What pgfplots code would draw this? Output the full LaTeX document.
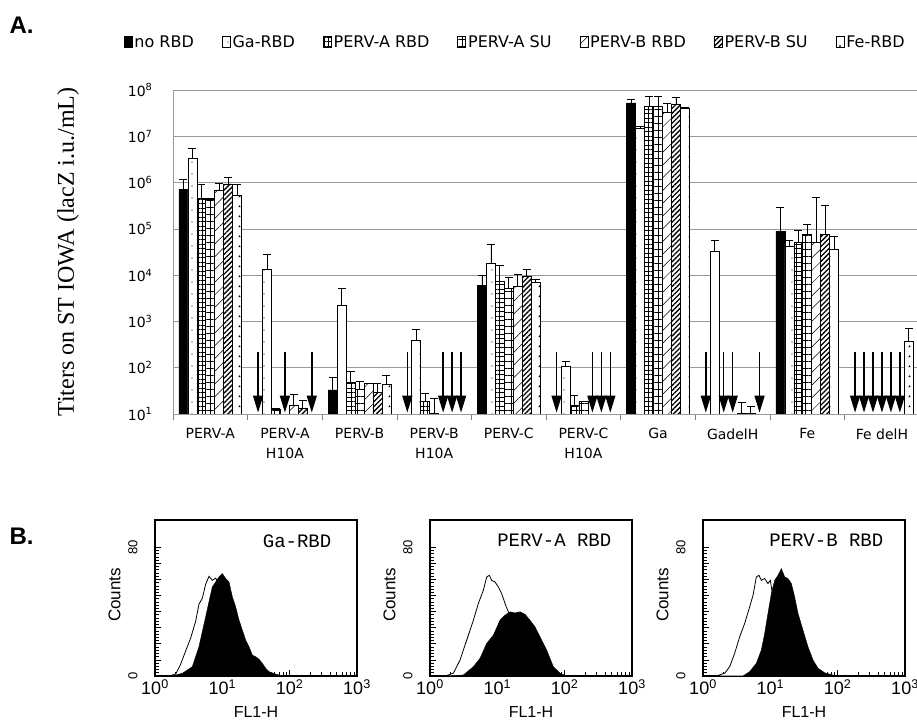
\documentclass[border=0pt]{standalone}
\usepackage{pgfplots}
\pgfplotsset{compat=1.18}
\usepackage{pgfplotstable}
\usepackage{fontspec}
\usetikzlibrary{patterns.meta,arrows.meta}
\setmainfont{DejaVu Sans}
\newfontfamily\verd{DejaVu Sans}
\newfontfamily\tnr{Liberation Serif}
\newfontfamily\helv{Liberation Sans}
\newfontfamily\cour{Liberation Mono}

% ---- Panel A: log10 titer (y) and upper error (e), x = group index
\pgfplotstableread{
x y e
0 5.86 0.21
2 1.52 0.27
4 3.77 0.22
6 7.72 0.08
8 4.95 0.51
}\tNo
\pgfplotstableread{
x y e
0 6.53 0.21
1 4.13 0.32
2 3.35 0.37
3 2.59 0.23
4 4.25 0.41
5 2.02 0.12
6 7.17 0.04
7 4.51 0.23
8 4.63 0.13
}\tGa
\pgfplotstableread{
x y e
0 5.66 0.30
1 1.10 0.02
2 1.68 0.23
3 1.27 0.18
4 3.87 0.35
5 1.19 0.22
6 7.65 0.22
8 4.71 0.25
}\tAR
\pgfplotstableread{
x y e
0 5.63 0.03
2 1.53 0.17
3 1.02 0.32
4 3.71 0.24
5 1.27 0.01
6 7.65 0.22
8 4.88 0.22
}\tAS
\pgfplotstableread{
x y e
0 5.84 0.15
1 1.18 0.25
2 1.66 0.01
4 3.76 0.26
6 7.51 0.21
7 1.02 0.23
8 4.71 0.97
}\tBR
\pgfplotstableread{
x y e
0 5.97 0.15
1 1.12 0.17
2 1.47 0.19
4 3.97 0.16
6 7.70 0.14
7 1.02 0.14
8 4.88 0.63
}\tBS
\pgfplotstableread{
x y e
0 5.72 0.25
2 1.64 0.19
4 3.84 0.07
6 7.60 0.02
8 4.56 0.27
9 2.58 0.26
}\tFe
\pgfplotstableread{
x y u v
0.64 2.35 0 -1.32
1.00 2.35 0 -1.32
1.36 2.35 0 -1.32
2.64 2.35 0 -1.32
3.12 2.35 0 -1.32
3.24 2.35 0 -1.32
3.36 2.35 0 -1.32
4.64 2.35 0 -1.32
5.12 2.35 0 -1.32
5.24 2.35 0 -1.32
5.36 2.35 0 -1.32
6.64 2.35 0 -1.32
6.88 2.35 0 -1.32
7.00 2.35 0 -1.32
7.36 2.35 0 -1.32
8.64 2.35 0 -1.32
8.76 2.35 0 -1.32
8.88 2.35 0 -1.32
9.00 2.35 0 -1.32
9.12 2.35 0 -1.32
9.24 2.35 0 -1.32
}\tArr

% ---- Panel B histograms: x = log10(FL1-H), c = counts
\pgfplotstableread{
x c
0.208 0
0.307 1.2
0.381 7.4
0.455 15.5
0.530 23.6
0.604 34.1
0.653 44.6
0.703 48.4
0.752 57.0
0.802 62.0
0.851 59.5
0.901 60.8
0.975 55.8
1.050 48.4
1.149 34.1
1.248 21.7
1.347 12.4
1.446 6.2
1.545 2.5
1.644 0
}\hOneW
\pgfplotstableread{
x c
0.257 0
0.406 1.7
0.554 5.8
0.653 18.2
0.752 36.8
0.851 55.4
0.901 58.5
0.950 61.6
1.000 63.7
1.050 60.6
1.099 58.5
1.149 49.2
1.198 43.0
1.248 34.7
1.297 28.5
1.347 22.3
1.396 18.2
1.446 13.0
1.495 12.0
1.545 10.4
1.594 7.9
1.644 4.8
1.693 2.7
1.792 1.2
1.891 0
}\hOneB
\pgfplotstableread{
x c
0.223 0
0.347 1.7
0.446 9.9
0.545 22.3
0.644 34.7
0.718 45.1
0.792 53.3
0.842 61.6
0.881 62.6
0.916 59.5
0.965 58.5
1.015 55.4
1.064 51.3
1.114 45.1
1.163 39.9
1.238 30.4
1.337 18.0
1.436 7.9
1.584 1.7
1.733 0
}\hTwoW
\pgfplotstableread{
x c
0.248 0
0.495 0.6
0.644 5.8
0.743 11.0
0.842 20.3
0.941 25.4
1.040 34.7
1.114 37.8
1.188 39.9
1.262 39.2
1.337 39.9
1.411 38.4
1.485 34.7
1.559 30.6
1.634 24.4
1.733 16.1
1.832 5.8
1.931 1.7
2.030 0
}\hTwoB
\pgfplotstableread{
x c
0.198 0
0.322 1.7
0.396 5.8
0.470 14.1
0.545 24.4
0.619 32.7
0.693 43.0
0.743 50.2
0.792 61.6
0.832 62.6
0.866 59.5
0.916 60.6
0.965 57.5
1.000 59.5
1.030 51.3
1.089 38.9
1.188 22.3
1.287 9.9
1.386 2.7
1.485 0
}\hThreeW
\pgfplotstableread{
x c
0.594 0
0.693 2.7
0.792 7.9
0.866 16.1
0.916 26.5
0.965 38.9
1.015 51.3
1.064 59.5
1.114 62.6
1.163 66.8
1.213 61.6
1.262 60.6
1.312 57.5
1.361 49.2
1.411 38.9
1.485 28.5
1.559 18.2
1.634 9.9
1.708 4.8
1.807 2.0
1.931 0.6
2.030 0
}\hThreeB

\pgfplotsset{
  titbar/.style={ybar, bar width=8.95bp, bar shift=0pt, draw=black, line width=0.7bp,
    error bars/y dir=plus, error bars/y explicit,
    error bars/error bar style={black, line width=0.8bp},
    error bars/error mark options={black, rotate=90, mark size=4bp, line width=0.8bp}},
  facs/.style={
    scale only axis, width=202bp, height=156bp, anchor=south west,
    xmin=0, xmax=3, ymin=0, ymax=97,
    xtick={0,1,2,3},
    xticklabels={10\textsuperscript{0},10\textsuperscript{1},10\textsuperscript{2},10\textsuperscript{3}},
    minor xtick={0.301,0.477,0.602,0.699,0.778,0.845,0.903,0.954,1.301,1.477,1.602,1.699,1.778,1.845,1.903,1.954,2.301,2.477,2.602,2.699,2.778,2.845,2.903,2.954},
    ytick={0,10,...,80}, yticklabels={0,,,,,,,,80},
    minor y tick num=4,
    tick align=inside, xtick pos=bottom, ytick pos=left,
    major tick length=6bp, minor tick length=3.5bp,
    tick style={black, line width=0.8bp},
    axis line style={line width=1.6bp},
    xticklabel style={font=\helv\fontsize{18bp}{20bp}\selectfont},
    yticklabel style={font=\helv\fontsize{13bp}{15bp}\selectfont, rotate=90, anchor=south},
    yticklabel shift=14bp,
    xlabel={FL1-H}, xlabel style={font=\helv\fontsize{16bp}{18bp}\selectfont, yshift=-5bp},
    ylabel={Counts}, ylabel style={font=\helv\fontsize{17bp}{19bp}\selectfont, at={(axis description cs:-0.2,0.52)}, anchor=center},
  },
}

\begin{document}
\begin{tikzpicture}
\path[use as bounding box] (0,0) rectangle (917bp,726bp);

\node[font=\helv\bfseries\fontsize{24bp}{26bp}\selectfont, anchor=west] at (6bp,701bp) {A.};
\node[font=\helv\bfseries\fontsize{24bp}{26bp}\selectfont, anchor=west] at (6bp,190bp) {B.};

\begin{axis}[
  at={(173bp,312bp)}, anchor=south west, scale only axis,
  width=744bp, height=324bp,
  xmin=-0.5, xmax=9.47, ymin=1, ymax=8,
  xtick={0,...,9},
  xticklabels={PERV-A,{PERV-A\\H10A},PERV-B,{PERV-B\\H10A},PERV-C,{PERV-C\\H10A},Ga,GadelH,Fe,Fe delH},
  xticklabel style={font=\verd\fontsize{14bp}{20bp}\selectfont, align=center, anchor=north, yshift=-11bp},
  minor xtick={-0.5,0.5,...,8.5},
  major tick length=0pt, minor tick length=6bp, tick align=outside,
  xtick pos=bottom, ytick pos=left,
  ytick={1,...,8},
  yticklabels={10\textsuperscript{1},10\textsuperscript{2},10\textsuperscript{3},10\textsuperscript{4},10\textsuperscript{5},10\textsuperscript{6},10\textsuperscript{7},10\textsuperscript{8}},
  yticklabel style={font=\verd\fontsize{14bp}{16bp}\selectfont, xshift=-17bp},
  ymajorgrids, grid style={gray!80, line width=0.6bp},
  minor tick style={gray, line width=0.7bp},
  axis lines*=left, axis line style={gray!80, line width=0.8bp, -},
  ylabel={Titers on ST IOWA (lacZ i.u./mL)},
  ylabel style={font=\tnr\fontsize{24bp}{26bp}\selectfont, at={(axis description cs:-0.141,0.5)}, anchor=center},
  legend columns=7,
  legend style={at={(axis description cs:0.46,1.148)}, anchor=center, draw=none, fill=none,
    font=\verd\fontsize{16bp}{18bp}\selectfont,
    /tikz/every even column/.append style={column sep=26bp}},
  legend image code/.code={\draw[#1, line width=0.7bp] (0bp,-5.5bp) rectangle (8bp,5.5bp);},
]
\addplot[titbar, fill=black] table[x expr=\thisrow{x}-0.36,y=y,y error=e]{\tNo};
\addlegendentry{no RBD}
\addplot[titbar, fill=white, postaction={pattern={Dots[radius=0.7bp,distance=12bp]}, pattern color=black}] table[x expr=\thisrow{x}-0.24,y=y,y error=e]{\tGa};
\addlegendentry{Ga-RBD}
\addplot[titbar, fill=white, postaction={pattern={Hatch[distance=4.5bp,line width=1bp]}, pattern color=black}] table[x expr=\thisrow{x}-0.12,y=y,y error=e]{\tAR};
\addlegendentry{PERV-A RBD}
\addplot[titbar, fill=white, postaction={pattern={Hatch[distance=7bp,line width=1bp]}, pattern color=black}] table[x expr=\thisrow{x},y=y,y error=e]{\tAS};
\addlegendentry{PERV-A SU}
\addplot[titbar, fill=white, postaction={pattern={Lines[angle=45,distance=9bp,line width=0.5bp]}, pattern color=black}] table[x expr=\thisrow{x}+0.12,y=y,y error=e]{\tBR};
\addlegendentry{PERV-B RBD}
\addplot[titbar, fill=white, postaction={pattern={Lines[angle=45,distance=3.5bp,line width=1.3bp]}, pattern color=black}] table[x expr=\thisrow{x}+0.24,y=y,y error=e]{\tBS};
\addlegendentry{PERV-B SU}
\addplot[titbar, fill=white, postaction={pattern={Stars[points=3,radius=1.4bp,distance=10bp]}, pattern color=black}] table[x expr=\thisrow{x}+0.36,y=y,y error=e]{\tFe};
\addlegendentry{Fe-RBD}
\addplot[forget plot, black, line width=1.5bp, -{Triangle[length=17bp,width=10bp]},
  quiver={u=\thisrow{u}, v=\thisrow{v}}] table[x=x,y=y]{\tArr};
\end{axis}

\begin{axis}[facs, at={(155bp,50bp)}]
\addplot[black, line width=0.8bp, fill=white] table[x=x,y=c]{\hOneW} \closedcycle;
\addplot[black, fill=black] table[x=x,y=c]{\hOneB} \closedcycle;
\node[anchor=north east, font=\cour\fontsize{19bp}{21bp}\selectfont] at (rel axis cs:0.89,0.93) {Ga-RBD};
\end{axis}

\begin{axis}[facs, at={(430bp,50bp)}]
\addplot[black, line width=0.8bp, fill=white] table[x=x,y=c]{\hTwoW} \closedcycle;
\addplot[black, fill=black] table[x=x,y=c]{\hTwoB} \closedcycle;
\node[anchor=north east, font=\cour\fontsize{19bp}{21bp}\selectfont] at (rel axis cs:0.915,0.93) {PERV-A RBD};
\end{axis}

\begin{axis}[facs, at={(703bp,50bp)}]
\addplot[black, line width=0.8bp, fill=white] table[x=x,y=c]{\hThreeW} \closedcycle;
\addplot[black, fill=black] table[x=x,y=c]{\hThreeB} \closedcycle;
\node[anchor=north east, font=\cour\fontsize{19bp}{21bp}\selectfont] at (rel axis cs:0.91,0.93) {PERV-B RBD};
\end{axis}
\end{tikzpicture}
\end{document}
